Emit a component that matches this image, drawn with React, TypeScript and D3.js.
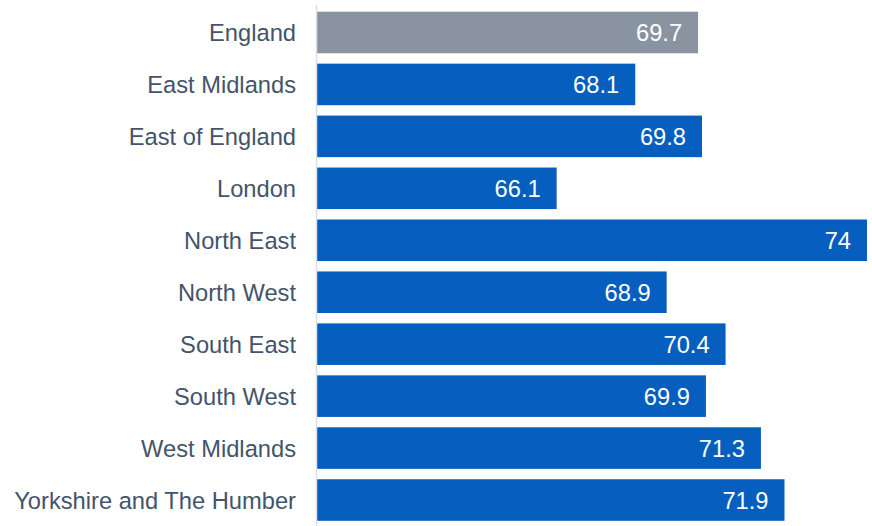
import React from "react";
import * as d3 from "d3";

const regions = [
  "England",
  "East Midlands",
  "East of England",
  "London",
  "North East",
  "North West",
  "South East",
  "South West",
  "West Midlands",
  "Yorkshire and The Humber",
];
const values = [69.7, 68.1, 69.8, 66.1, 74, 68.9, 70.4, 69.9, 71.3, 71.9];
const labels = ["69.7", "68.1", "69.8", "66.1", "74", "68.9", "70.4", "69.9", "71.3", "71.9"];

const W = 872;
const H = 526;

export default function App() {
  const x = d3.scaleLinear().domain([60, 74]).range([317, 867]);
  const y = d3.scaleBand<string>().domain(regions).range([6.5, 526]).paddingInner(0.2).paddingOuter(0.1);
  const bw = y.bandwidth();
  return (
    <svg
      width={W}
      height={H}
      style={{ position: "fixed", left: 0, top: 0, background: "#fff" }}
      fontFamily="'Liberation Sans', Arial, sans-serif"
    >
      {regions.map((r, i) => {
        const y0 = y(r)!;
        const x1 = x(values[i]);
        return (
          <g key={r}>
            <rect
              x={x(60)}
              y={y0}
              width={x1 - x(60)}
              height={bw}
              fill={i === 0 ? "#8A94A0" : "#065EBE"}
            />
            <text
              x={x1 - 16}
              y={y0 + bw / 2}
              dy="0.36em"
              textAnchor="end"
              fontSize={23.7}
              fill="#fff"
            >
              {labels[i]}
            </text>
            <text
              x={296}
              y={y0 + bw / 2}
              dy="0.36em"
              textAnchor="end"
              fontSize={23.7}
              fill="#44546A"
            >
              {r}
            </text>
          </g>
        );
      })}
      <line x1={316.5} x2={316.5} y1={5} y2={526} stroke="#D9DEE8" strokeWidth={1.5} />
    </svg>
  );
}
